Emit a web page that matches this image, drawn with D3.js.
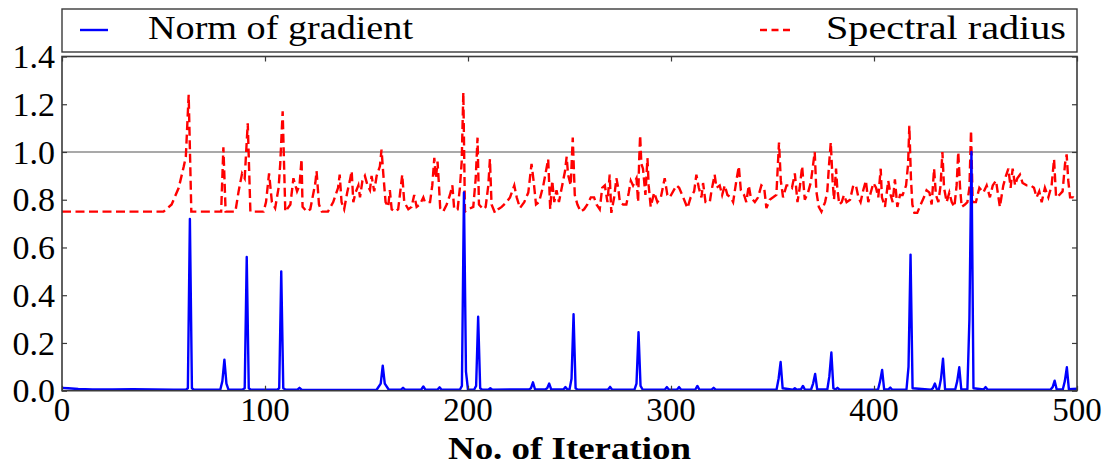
<!DOCTYPE html>
<html>
<head>
<meta charset="utf-8">
<script src="https://cdn.jsdelivr.net/npm/d3@7"></script>
<style>
  svg text { font-family: "Liberation Serif", "Times New Roman", serif; }
</style>
</head>
<body style="margin:0;padding:0;background:#fff">
<svg id="chart" width="1106" height="466" style="display:block"></svg>
<script>
// ---------- data ----------
const xTicks = [0, 100, 200, 300, 400, 500];
const yTicks = [0, 0.2, 0.4, 0.6, 0.8, 1.0, 1.2, 1.4];
const seriesNames = ["Norm of gradient", "Spectral radius"];
const xLabel = "No. of Iteration";

// Norm of gradient (iteration, value)
const gradIter = [0,3,8,15,25,35,45,55,61,62,63,64,65,75,78,79,80,81,82,89,90,91,92,93,106,107,108,109,110,116,117,118,125,140,155,157,158,159,161,167,168,169,177,178,179,185,186,187,196,197,198,199,200,203,204,205,206,207,210,211,212,222,230,231,232,233,238,239,240,241,247,248,249,250,251,252,253,254,260,269,270,271,282,283,284,285,286,290,297,298,299,303,304,305,312,313,314,320,321,322,335,350,352,353,354,355,360,361,362,364,365,366,369,370,371,372,377,378,379,380,381,382,383,395,402,403,404,405,407,408,409,416,417,418,419,428,429,430,431,432,433,434,435,440,441,442,443,446,447,448,449,454,455,456,470,487,488,489,490,493,494,495,496,500];
const gradVal = [0.012,0.01,0.007,0.005,0.005,0.006,0.005,0.004,0.004,0.01,0.72,0.01,0.004,0.004,0.005,0.04,0.13,0.03,0.004,0.005,0.01,0.56,0.01,0.004,0.004,0.01,0.50,0.01,0.005,0.004,0.012,0.004,0.003,0.003,0.004,0.03,0.105,0.03,0.004,0.004,0.012,0.004,0.005,0.018,0.004,0.005,0.014,0.004,0.004,0.02,0.83,0.08,0.004,0.004,0.02,0.31,0.01,0.004,0.004,0.01,0.004,0.005,0.005,0.01,0.035,0.006,0.005,0.01,0.03,0.005,0.005,0.015,0.005,0.005,0.05,0.32,0.01,0.004,0.004,0.005,0.016,0.004,0.004,0.03,0.245,0.02,0.005,0.004,0.005,0.015,0.004,0.005,0.015,0.004,0.005,0.02,0.004,0.004,0.012,0.004,0.004,0.004,0.005,0.05,0.12,0.01,0.004,0.01,0.004,0.006,0.02,0.004,0.005,0.03,0.07,0.006,0.005,0.06,0.16,0.01,0.005,0.012,0.004,0.004,0.005,0.04,0.087,0.006,0.005,0.013,0.004,0.005,0.1,0.57,0.01,0.004,0.01,0.03,0.004,0.006,0.05,0.134,0.006,0.005,0.04,0.098,0.005,0.005,0.3,1.0,0.01,0.005,0.015,0.004,0.004,0.005,0.015,0.042,0.005,0.005,0.04,0.098,0.006,0.008];

// Spectral radius (iteration, value)
const specIter = [0,50,54,57.5,60,61,62.4,63.7,76,78.4,79.5,80.6,85.4,87,88.7,90,91.5,92.8,99.3,100.5,102,103.4,105,106.7,107.5,108.7,110,112.5,114,115.8,117,118,118.5,120.7,122.3,124.8,
125.4,126.6,128,131,133.6,136,136.8,137.7,139,140.5,141.8,142.7,143.5,144.6,146,146.8,148,149.2,150.5,151.7,152.5,153.8,155,156.6,157.4,158.3,159.4,160.7,161.5,162.4,164,165.6,167,167.6,168.6,170.6,172.2,173.5,174.7,176.3,178,178.8,181.3,182.4,183.4,184.2,185,185.7,186.3,187.8,189.5,191.1,192.3,193.2,194.9,196,196.9,197.7,198.5,200.1,202.6,203.8,204.7,205.4,207.5,208.7,210,210.8,211.6,213.3,214.9,216.6,219,220.7,222.8,224,225.6,227.7,229.7,231.3,232.3,233.5,235,237.1,238.2,239.5,240.5,241.5,242.5,243.6,244.8,246.4,247.8,248.6,
249.3,250.6,251.6,252.6,253.9,255.5,257.2,258.8,260.5,262.1,263.3,264.9,266.1,267.4,268.7,269.8,270.6,272,273.1,274,274.8,276.4,278,279.2,280.2,281.3,283,283.8,284.3,284.8,285.4,286.2,287.4,288.4,289,290,291.7,293.3,295,296.9,298.2,299.4,302.7,304,306,308.1,309.7,311.4,312.5,313.7,315,315.8,317,319.1,319.9,321.5,322.4,324,325.2,326.5,327.8,329.4,330.6,332.2,333.4,334.4,336,337.1,338.3,339.3,341.3,342.9,344.5,345.9,347,348.6,350.3,351.9,353.2,354.1,355.2,356.9,358.5,359.6,361,362.3,363.4,364.6,365.9,367.5,368.8,369.6,370.8,371.6,372.8,374.1,
375.9,377,377.8,378.7,379.6,380.3,381.3,381.9,382.9,384.1,385.2,386.5,388.2,389.8,391.1,392.3,393.4,394.7,396,397.2,398.4,399.7,401,402.1,403.3,403.9,405.4,407,408.2,409.2,410.3,411.5,412.8,414.1,415.8,416.8,417.4,418.2,418.9,419.9,421.3,423,424.6,425.9,427.3,428.4,429.6,430.5,431.7,432.8,433.7,434.5,435.8,437.1,438.3,439.6,440.7,441.5,442.4,443.2,444.8,446,447,447.8,448.6,450.2,451.9,453.9,455.5,457.1,458.5,460.1,462,463.7,465,466.2,467.3,468.3,469.5,470.6,471.9,473.2,475.2,477.2,478.8,480.1,481.4,482.6,484.2,485.9,487.5,488.7,489.7,491.3,492.9,494.1,494.9,495.7,496.6,498.2,500];
const specVal = [0.75,0.75,0.78,0.85,0.94,0.98,1.24,0.75,0.75,0.75,1.02,0.75,0.75,0.835,0.91,0.89,1.12,0.75,0.75,0.79,0.91,0.79,0.765,0.85,0.95,1.17,0.75,0.78,0.89,0.835,0.86,0.97,0.77,0.75,0.76,0.87,
0.92,0.78,0.75,0.75,0.79,0.85,0.905,0.79,0.76,0.83,0.88,0.92,0.79,0.83,0.86,0.81,0.88,0.9,0.86,0.84,0.9,0.835,0.9,0.94,1.01,0.905,0.79,0.77,0.84,0.76,0.75,0.76,0.86,0.905,0.79,0.76,0.77,0.82,0.77,0.78,0.81,0.79,0.79,0.86,0.975,0.89,0.96,0.86,0.765,0.75,0.78,0.82,0.86,0.76,0.76,0.85,0.96,1.25,0.75,0.76,0.77,0.89,1.06,0.78,0.76,0.77,0.86,0.97,0.78,0.745,0.76,0.77,0.79,0.81,0.86,0.81,0.765,0.79,0.83,0.95,0.88,0.78,0.79,0.86,0.91,0.97,0.76,0.88,0.79,0.84,0.79,0.86,0.92,0.98,
0.905,0.86,1.06,0.82,0.78,0.75,0.76,0.78,0.81,0.81,0.78,0.76,0.85,0.86,0.79,0.905,0.745,0.81,0.89,0.85,0.79,0.78,0.78,0.83,0.88,0.86,0.89,0.79,0.96,1.07,0.95,0.93,0.82,0.975,0.86,0.77,0.83,0.79,0.81,0.89,0.82,0.81,0.86,0.85,0.81,0.765,0.81,0.835,0.905,0.85,0.81,0.87,0.79,0.79,0.835,0.905,0.85,0.86,0.82,0.86,0.82,0.81,0.79,0.88,0.94,0.84,0.82,0.79,0.86,0.81,0.79,0.81,0.86,0.85,0.765,0.8,0.81,0.82,1.04,0.88,0.81,0.86,0.86,0.85,0.91,0.79,0.85,0.94,0.8,0.83,0.87,0.92,1.0,0.835,0.77,0.75,
0.79,0.835,0.94,1.04,0.88,0.8,0.93,0.85,0.78,0.79,0.82,0.79,0.8,0.86,0.86,0.81,0.79,0.84,0.88,0.79,0.83,0.87,0.85,0.81,0.93,0.81,0.77,0.88,0.82,0.79,0.885,0.77,0.82,0.82,0.86,0.95,1.11,0.89,0.78,0.745,0.745,0.78,0.81,0.84,0.83,0.78,0.93,0.82,0.79,0.86,1.0,0.85,0.79,0.83,0.79,0.77,0.86,1.0,0.85,0.77,0.78,0.79,0.85,1.09,0.79,0.79,0.85,0.83,0.86,0.81,0.86,0.88,0.77,0.86,0.9,0.93,0.85,0.93,0.86,0.89,0.905,0.87,0.86,0.86,0.85,0.81,0.835,0.79,0.85,0.81,0.86,0.97,0.81,0.82,0.835,0.95,0.99,0.88,0.81,0.81,0.8];

// ---------- drawing ----------
const FONT = "Liberation Serif";
const svg = d3.select("#chart");
const plotL = 62, plotR = 1077, plotT = 56.5, plotB = 390.7;
const x = d3.scaleLinear().domain([0, 500]).range([plotL, plotR]);
const y = d3.scaleLinear().domain([0, 1.4]).range([plotB, plotT]);
const frameColor = "#3a3a3a";

// gridline at 1.0
svg.append("line")
  .attr("x1", plotL).attr("x2", plotR)
  .attr("y1", y(1.0)).attr("y2", y(1.0))
  .attr("stroke", "#8c8c8c").attr("stroke-width", 1.5);

const gradData = gradIter.map((d, i) => [d, gradVal[i]]);
const specData = specIter.map((d, i) => [d, specVal[i]]);
const line = d3.line().x(d => x(d[0])).y(d => y(d[1]));

svg.append("clipPath").attr("id", "clip")
  .append("rect").attr("x", plotL).attr("y", plotT).attr("width", plotR - plotL).attr("height", plotB - plotT);

const plot = svg.append("g").attr("clip-path", "url(#clip)");
plot.append("path").datum(specData)
  .attr("d", line).attr("fill", "none")
  .attr("stroke", "#ff0000").attr("stroke-width", 2.4)
  .attr("stroke-dasharray", "9,4.5");
plot.append("path").datum(gradData)
  .attr("d", line).attr("fill", "none")
  .attr("stroke", "#0000ff").attr("stroke-width", 2.4)
  .attr("stroke-linejoin", "round");

// axes (inward ticks)
const fmt = d3.format(".1f");
const axL = svg.append("g").attr("transform", `translate(${plotL},0)`)
  .call(d3.axisLeft(y).tickValues(yTicks).tickFormat("").tickSizeInner(-5).tickSizeOuter(0));
const axR = svg.append("g").attr("transform", `translate(${plotR},0)`)
  .call(d3.axisRight(y).tickValues(yTicks).tickFormat("").tickSizeInner(-5).tickSizeOuter(0));
const axB = svg.append("g").attr("transform", `translate(0,${plotB})`)
  .call(d3.axisBottom(x).tickValues(xTicks).tickFormat("").tickSizeInner(-5).tickSizeOuter(0));
const axT = svg.append("g").attr("transform", `translate(0,${plotT})`)
  .call(d3.axisTop(x).tickValues(xTicks).tickFormat("").tickSizeInner(-5).tickSizeOuter(0));
[axL, axR, axB, axT].forEach(g => {
  g.select(".domain").remove();
  g.selectAll("text").remove();
  g.selectAll(".tick line").attr("stroke", frameColor).attr("stroke-width", 1.2);
});

const labels = svg.append("g");
labels.selectAll("text.yl").data(yTicks).join("text")
  .attr("class", "yl")
  .attr("x", plotL - 7).attr("y", d => y(d)).attr("dy", "0.34em")
  .attr("text-anchor", "end")
  .attr("font-family", FONT).attr("font-size", 34).attr("fill", "#000")
  .text(d => fmt(d));
labels.selectAll("text.xl").data(xTicks).join("text")
  .attr("class", "xl")
  .attr("x", d => x(d)).attr("y", 421)
  .attr("text-anchor", "middle")
  .attr("font-family", FONT).attr("font-size", 33).attr("fill", "#000")
  .text(d => String(d));

// frame
svg.append("rect")
  .attr("x", plotL).attr("y", plotT).attr("width", plotR - plotL).attr("height", plotB - plotT)
  .attr("fill", "none").attr("stroke", frameColor).attr("stroke-width", 1.6);

// x label
svg.append("text")
  .attr("x", (plotL + plotR) / 2).attr("y", 459)
  .attr("text-anchor", "middle")
  .attr("font-family", FONT).attr("font-size", 31).attr("font-weight", "bold")
  .attr("textLength", 243).attr("lengthAdjust", "spacingAndGlyphs")
  .text(xLabel);

// legend
const leg = svg.append("g");
leg.append("rect")
  .attr("x", plotL).attr("y", 9).attr("width", plotR - plotL).attr("height", 43)
  .attr("fill", "#fff").attr("stroke", frameColor).attr("stroke-width", 1.4);
leg.append("line").attr("x1", 80).attr("x2", 108).attr("y1", 30).attr("y2", 30)
  .attr("stroke", "#0000ff").attr("stroke-width", 2.4);
leg.append("text").attr("x", 148).attr("y", 39)
  .attr("font-family", FONT).attr("font-size", 33)
  .attr("textLength", 265).attr("lengthAdjust", "spacingAndGlyphs")
  .text(seriesNames[0]);
leg.append("line").attr("x1", 760).attr("x2", 794).attr("y1", 30).attr("y2", 30)
  .attr("stroke", "#ff0000").attr("stroke-width", 2.4).attr("stroke-dasharray", "7,4.5");
leg.append("text").attr("x", 1066).attr("y", 39)
  .attr("text-anchor", "end")
  .attr("font-family", FONT).attr("font-size", 33)
  .attr("textLength", 240).attr("lengthAdjust", "spacingAndGlyphs")
  .text(seriesNames[1]);
</script>
</body>
</html>
